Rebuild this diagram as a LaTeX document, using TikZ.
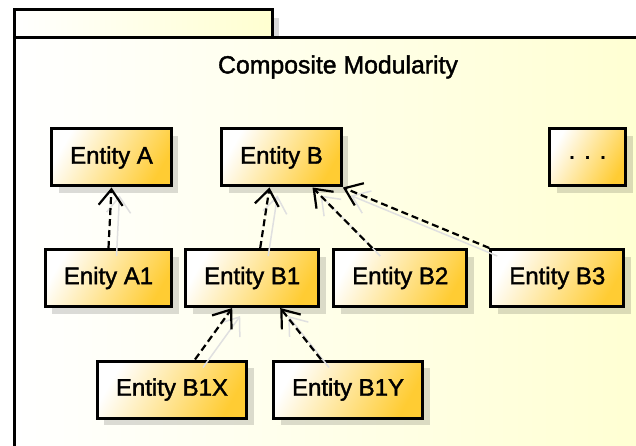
\documentclass[tikz,border=0pt]{standalone}
\usepackage{fontspec}
\setmainfont{Liberation Sans}
\newfontfamily\entfont{Liberation Sans}[FakeBold=1.6]
\usetikzlibrary{positioning,shadows,arrows.meta}
\definecolor{entgold}{RGB}{255,204,51}
\definecolor{pkgyellow}{RGB}{255,255,208}

\begin{document}
\begin{tikzpicture}[x=1pt,y=-1pt,
  entity/.style={draw, line width=3pt, minimum height=57pt, minimum width=76pt, inner xsep=18.5pt,
    left color=white, right color=entgold, shading angle=60,
    drop shadow={shadow xshift=7pt, shadow yshift=-7pt, fill=black, opacity=0.14},
    font=\fontsize{24}{28}\entfont},
  dep/.style={dashed, dash pattern=on 7pt off 4pt, line width=2.2pt,
    -{Straight Barb[length=16pt,width=24pt]},
    preaction={draw=black!12, solid, line width=1.5pt, transform canvas={shift={(8pt,-8pt)}}}}]
\useasboundingbox (0,0) rectangle (636,446);
\clip (0,0) rectangle (636,446);

% package frame
\fill[black!15] (272,18) rectangle (279,38);
\draw[line width=3pt, left color=white, right color=pkgyellow] (14,10) rectangle (272,38);
\draw[line width=3pt, left color=white, right color=pkgyellow] (14,38) rectangle (680,480);
\node[font=\fontsize{24.8}{29}\entfont] (title) at (338,67) {Composite Modularity};

% top row
\node[entity] (A) at (111.5,157.5) {Entity A};
\node[entity] (B) at (281.5,157.5) {Entity B};
\node[entity] (more) at (587.5,157.5) {. . .};

% second row
\node[entity] (A1) at (108.5,278) {Enity A1};
\node[entity, right=11pt of A1] (B1) {Entity B1};
\node[entity, right=12pt of B1] (B2) {Entity B2};
\node[entity, right=21pt of B2] (B3) {Entity B3};

% third row
\node[entity] (B1X) at (172,389.5) {Entity B1X};
\node[entity, right=24pt of B1X] (B1Y) {Entity B1Y};

\draw[dep] (A1.north) -- (A.south);
\draw[dep] ([xshift=8pt]B1.north) -- ([xshift=-12pt]B.south);
\draw[dep] ([xshift=-28pt]B2.north) -- ([xshift=31pt]B.south);
\draw[dep] (B3.north west) -- (B.south east);
\draw[dep] ([xshift=23pt]B1X.north) -- ([xshift=-20pt]B1.south);
\draw[dep] ([xshift=-27pt]B1Y.north) -- ([xshift=28pt]B1.south);
\end{tikzpicture}
\end{document}
